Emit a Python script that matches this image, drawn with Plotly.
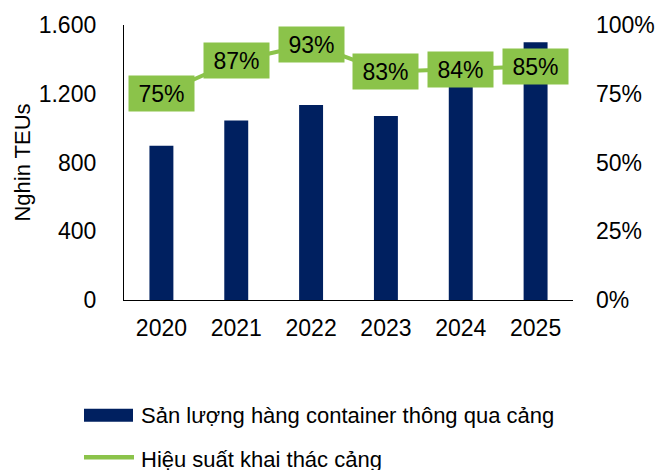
import plotly.graph_objects as go

# Data
years = ["2020", "2021", "2022", "2023", "2024", "2025"]
throughput = [898, 1045, 1135, 1070, 1350, 1500]          # nghìn TEUs
utilization = [0.75, 0.87, 0.93, 0.83, 0.84, 0.85]       # hiệu suất khai thác

bar_name = "Sản lượng hàng container thông qua cảng"
line_name = "Hiệu suất khai thác cảng"
y_title = "Nghin TEUs"

NAVY = "#002060"
GREEN = "#8BC34A"
FONT = "Liberation Sans, Arial, sans-serif"
FS = 22

fig = go.Figure()

fig.add_trace(go.Bar(
    x=years, y=throughput, name=bar_name,
    marker=dict(color=NAVY, line=dict(width=0)),
    width=0.32, yaxis="y", showlegend=False,
))

fig.add_trace(go.Scatter(
    x=years, y=utilization, name=line_name, mode="lines",
    line=dict(color=GREEN, width=4), yaxis="y2", showlegend=False,
))

# Value labels in green boxes (category index positions)
for i, v in enumerate(utilization):
    fig.add_annotation(
        x=i, y=v, xref="x", yref="y2",
        text=f"{round(v * 100)}%", showarrow=False,
        font=dict(family=FONT, size=FS + 1, color="black"),
        bgcolor=GREEN, width=61, height=31, borderpad=2,
        xanchor="center", yanchor="middle",
    )

# Legend drawn below the plot (pixel positions mapped to paper coords)
W, H = 672, 470
L, R, T, B = 124, 99, 22, 170
pw, ph = W - L - R, H - T - B

def px(x):
    return (x - L) / pw

def py(y):
    return (H - B - y) / ph

fig.add_shape(type="rect", xref="paper", yref="paper",
              x0=px(84), x1=px(133), y0=py(423), y1=py(410),
              fillcolor=NAVY, line=dict(width=0))
fig.add_annotation(xref="paper", yref="paper", x=px(139), y=py(417),
                   text=bar_name, showarrow=False, xanchor="left", yanchor="middle",
                   font=dict(family=FONT, size=FS, color="black"))
fig.add_shape(type="line", xref="paper", yref="paper",
              x0=px(84), x1=px(134), y0=py(459), y1=py(459),
              line=dict(color=GREEN, width=4.5))
fig.add_annotation(xref="paper", yref="paper", x=px(139), y=py(461),
                   text=line_name, showarrow=False, xanchor="left", yanchor="middle",
                   font=dict(family=FONT, size=FS, color="black"))

fig.update_layout(
    width=W, height=H,
    margin=dict(l=L, r=R, t=T, b=B, pad=0),
    paper_bgcolor="white", plot_bgcolor="white",
    separators=",.",
    font=dict(family=FONT, size=FS, color="black"),
    xaxis=dict(
        type="category", range=[-0.5, len(years) - 0.5],
        showline=True, linecolor="black", linewidth=1.3,
        ticks="", showgrid=False, zeroline=False,
        tickfont=dict(size=FS + 1), ticklabelstandoff=7,
    ),
    yaxis=dict(
        range=[0, 1600], tickvals=[0, 400, 800, 1200, 1600], tickformat=",d",
        showline=True, linecolor="black", linewidth=1.3,
        showgrid=False, zeroline=False, ticks="",
        tickfont=dict(size=FS + 1), ticklabelstandoff=22,
        title=dict(text=y_title, font=dict(size=FS), standoff=1),
    ),
    yaxis2=dict(
        overlaying="y", side="right", range=[0, 1],
        tickvals=[0, 0.25, 0.5, 0.75, 1.0], tickformat=".0%",
        showline=False, showgrid=False, zeroline=False, ticks="",
        tickfont=dict(size=FS + 1), ticklabelstandoff=22,
    ),
)

fig.write_html("out.html")
